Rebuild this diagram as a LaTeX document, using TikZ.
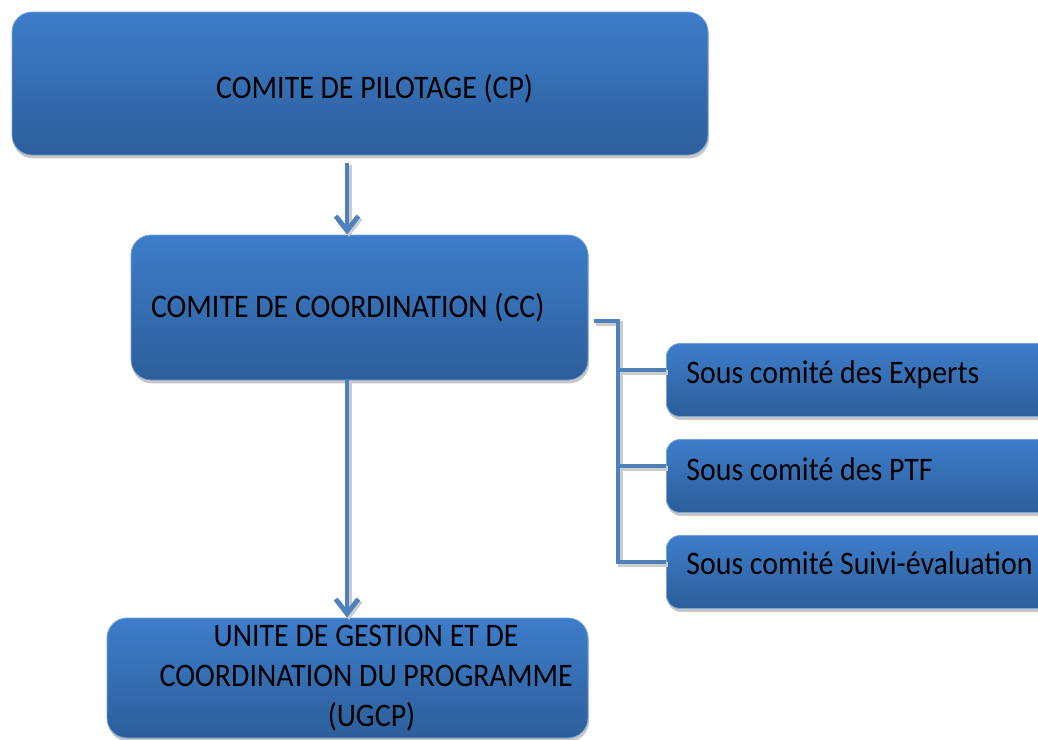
\documentclass[tikz,border=0pt]{standalone}
\usepackage{fontspec}
\setmainfont{Carlito}
\usetikzlibrary{arrows.meta,shadows}
\definecolor{boxtop}{RGB}{62,125,202}
\definecolor{boxbot}{RGB}{44,94,154}
\definecolor{lineblue}{RGB}{79,129,189}
\newcommand{\tall}[1]{\scalebox{1}[1.1]{#1}}
\newcommand{\shiftup}[2]{\raisebox{#1}[\height][\depth]{#2}}
\tikzset{
  box/.style={rectangle, rounded corners=15pt, top color=boxtop, bottom color=boxbot,
    draw=boxtop!70!white, line width=0.6pt,
    drop shadow={shadow xshift=0.8pt, shadow yshift=-2.6pt, fill=black, opacity=0.22},
    font=\fontsize{22.4pt}{30pt}\selectfont, text=black, inner sep=0pt},
  subbox/.style={box, rounded corners=10pt},
  conn/.style={line width=3.6pt, draw=lineblue,
    preaction={draw=black!20, line width=3.6pt, transform canvas={shift={(1.6pt,-1.6pt)}}}},
  arr/.style={conn, -{Straight Barb[length=11pt,width=17pt,line width=3.6pt]}}
}
\begin{document}
\begin{tikzpicture}[x=0.75pt,y=-0.75pt]
\useasboundingbox (0,0) rectangle (1038,739);
\clip (0,0) rectangle (1038,739);
% main boxes
\node[box, minimum width=696*0.75pt, minimum height=143*0.75pt] (cp) at (360,83.5) {\hspace*{22pt}\shiftup{-3.6pt}{\tall{COMITE DE PILOTAGE (CP)}}};
\node[box, minimum width=457*0.75pt, minimum height=145*0.75pt] (cc) at (359.5,307.5) {\makebox[312.75pt][l]{\tall{COMITE DE COORDINATION (CC)}}};
\node[box, minimum width=481*0.75pt, minimum height=120*0.75pt] (ug) at (347.5,678) {\hspace*{28pt}\begin{tabular}{@{}c@{}}\tall{UNITE DE GESTION ET DE}\\\tall{COORDINATION DU PROGRAMME}\\\hspace*{8pt}\tall{(UGCP)}\end{tabular}};
% sub boxes
\node[subbox, minimum width=420*0.75pt, minimum height=73*0.75pt, anchor=west] (s1) at (666,380) {\makebox[285pt][l]{\shiftup{3.8pt}{\tall{Sous comité des Experts}}}};
\node[subbox, minimum width=420*0.75pt, minimum height=73*0.75pt, anchor=west] (s2) at (666,476) {\makebox[285pt][l]{\shiftup{5.2pt}{\tall{Sous comité des PTF}}}};
\node[subbox, minimum width=420*0.75pt, minimum height=73*0.75pt, anchor=west] (s3) at (666,572) {\makebox[285pt][l]{\shiftup{6.6pt}{\tall{Sous comité Suivi-évaluation}}}};
% connectors
\coordinate (a1) at (347,163);
\coordinate (a2) at (347,380);
\draw[arr] (a1) -- (a1 |- cc.north);
\draw[arr] (a2) -- (a2 |- ug.north);
\coordinate (b0) at (594,321);
\coordinate (bx) at (618,321);
\coordinate (by) at (618,562);
\coordinate (c1) at (618,370);
\coordinate (c2) at (618,466);
\coordinate (c3) at (616.2,562);
\draw[conn] (b0) -- (bx) -- (by);
\draw[conn] (c1) -- (c1 -| s1.west);
\draw[conn] (c2) -- (c2 -| s2.west);
\draw[conn] (c3) -- (c3 -| s3.west);
\end{tikzpicture}
\end{document}
